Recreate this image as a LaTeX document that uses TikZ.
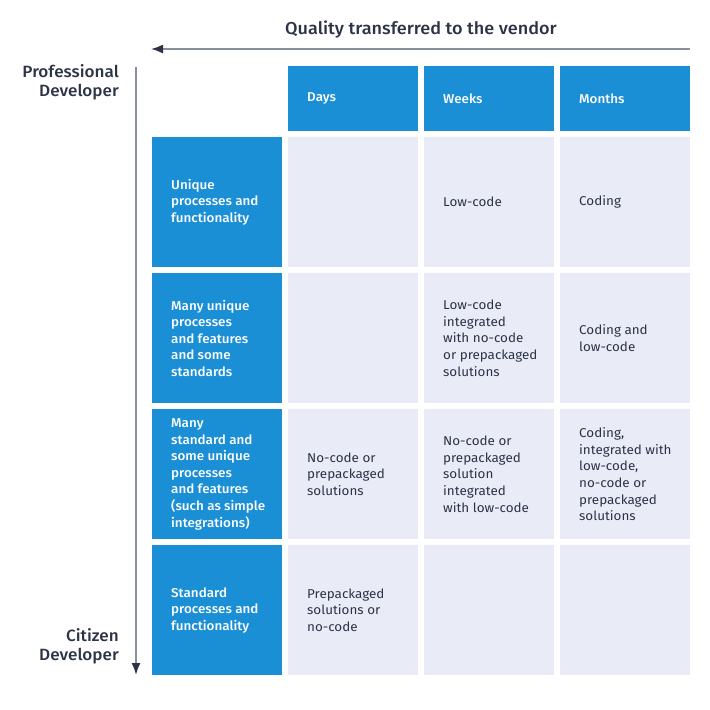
\documentclass[tikz,border=0pt]{standalone}
\usepackage{fontspec}
\setmainfont{Fira Sans}[FakeStretch=1.05]
\newfontfamily\medfont{Fira Sans Medium}[FakeStretch=1.05]
\usetikzlibrary{arrows.meta}
\definecolor{cellblue}{HTML}{1A8FD6}
\definecolor{celllight}{HTML}{E9EBF7}
\definecolor{textdark}{HTML}{2B3345}
\definecolor{axisgray}{HTML}{8A8F9C}
\tikzset{
	cell/.style={inner sep=0pt, minimum width=130pt, minimum height=130pt, anchor=north west},
	rowcell/.style={cell, fill=cellblue},
	headcell/.style={rowcell, minimum height=65pt},
	bodycell/.style={cell, fill=celllight},
	celltxt/.style={anchor=west, inner sep=0pt, align=left, text=textdark, font=\fontsize{12.8}{16.6}\selectfont},
	bluetxt/.style={celltxt, text=white, font=\medfont\fontsize{12.8}{16.6}\selectfont},
	sidetxt/.style={anchor=east, inner sep=0pt, align=right, text=textdark, font=\medfont\fontsize{16.3}{19}\selectfont},
	axis/.style={draw=axisgray, line width=1.6pt, -{Latex[length=12pt,width=9pt,color=textdark]}},
}

\begin{document}
\begin{tikzpicture}[x=1pt,y=-1pt]
		%%%%% START %%%%%
		\useasboundingbox (0,0) rectangle (710,710);
		
		\node[sidetxt, anchor=center, font=\medfont\fontsize{17.2}{19}\selectfont] (title) at (421,29.5) {Quality transferred to the vendor};
		\coordinate (hstart) at (690,49);
		\coordinate (hend) at (151,49);
		\draw[axis] (hstart) -- (hend);
		\coordinate (vstart) at (136,67);
		\coordinate (vend) at (136,675);
		\draw[axis] (vstart) -- (vend);
		
		\node[sidetxt] (pro) at (119,82) {Professional\\Developer};
		\node[sidetxt] (cit) at (119,646) {Citizen\\Developer};
		
		\foreach \c/\x in {1/288,2/424,3/560}
			\node[headcell] (h\c) at (\x,66) {};
		\foreach \r/\y in {1/137,2/273,3/409,4/545} {
			\node[rowcell] (r\r) at (152,\y) {};
			\foreach \c/\x in {1/288,2/424,3/560}
				\node[bodycell] (c\r\c) at (\x,\y) {};
		}
		
		\node[bluetxt] (days) at ([xshift=19pt]h1.west) {Days};
		\node[bluetxt] (weeks) at ([xshift=19pt]h2.west) {Weeks};
		\node[bluetxt] (months) at ([xshift=19pt]h3.west) {Months};
		
		\node[bluetxt] (t1) at ([xshift=19pt]r1.west) {Unique\\processes and\\functionality};
		\node[bluetxt] (t2) at ([xshift=19pt]r2.west) {Many unique\\processes\\and features\\and some\\standards};
		\node[bluetxt] (t3) at ([xshift=19pt]r3.west) {Many\\standard and\\some unique\\processes\\and features\\(such as simple\\integrations)};
		\node[bluetxt] (t4) at ([xshift=19pt]r4.west) {Standard\\processes and\\functionality};
		
		\node[celltxt] (t12) at ([xshift=19pt]c12.west) {Low-code};
		\node[celltxt] (t13) at ([xshift=19pt]c13.west) {Coding};
		\node[celltxt] (t22) at ([xshift=19pt]c22.west) {Low-code\\integrated\\with no-code\\or prepackaged\\solutions};
		\node[celltxt] (t23) at ([xshift=19pt]c23.west) {Coding and\\low-code};
		\node[celltxt] (t31) at ([xshift=19pt]c31.west) {No-code or\\prepackaged\\solutions};
		\node[celltxt] (t32) at ([xshift=19pt]c32.west) {No-code or\\prepackaged\\solution\\integrated\\with low-code};
		\node[celltxt] (t33) at ([xshift=19pt]c33.west) {Coding,\\integrated with\\low-code,\\no-code or\\prepackaged\\solutions};
		\node[celltxt] (t41) at ([xshift=19pt]c41.west) {Prepackaged\\solutions or\\no-code};
		%%%%% END %%%%%
	\end{tikzpicture}
\end{document}
